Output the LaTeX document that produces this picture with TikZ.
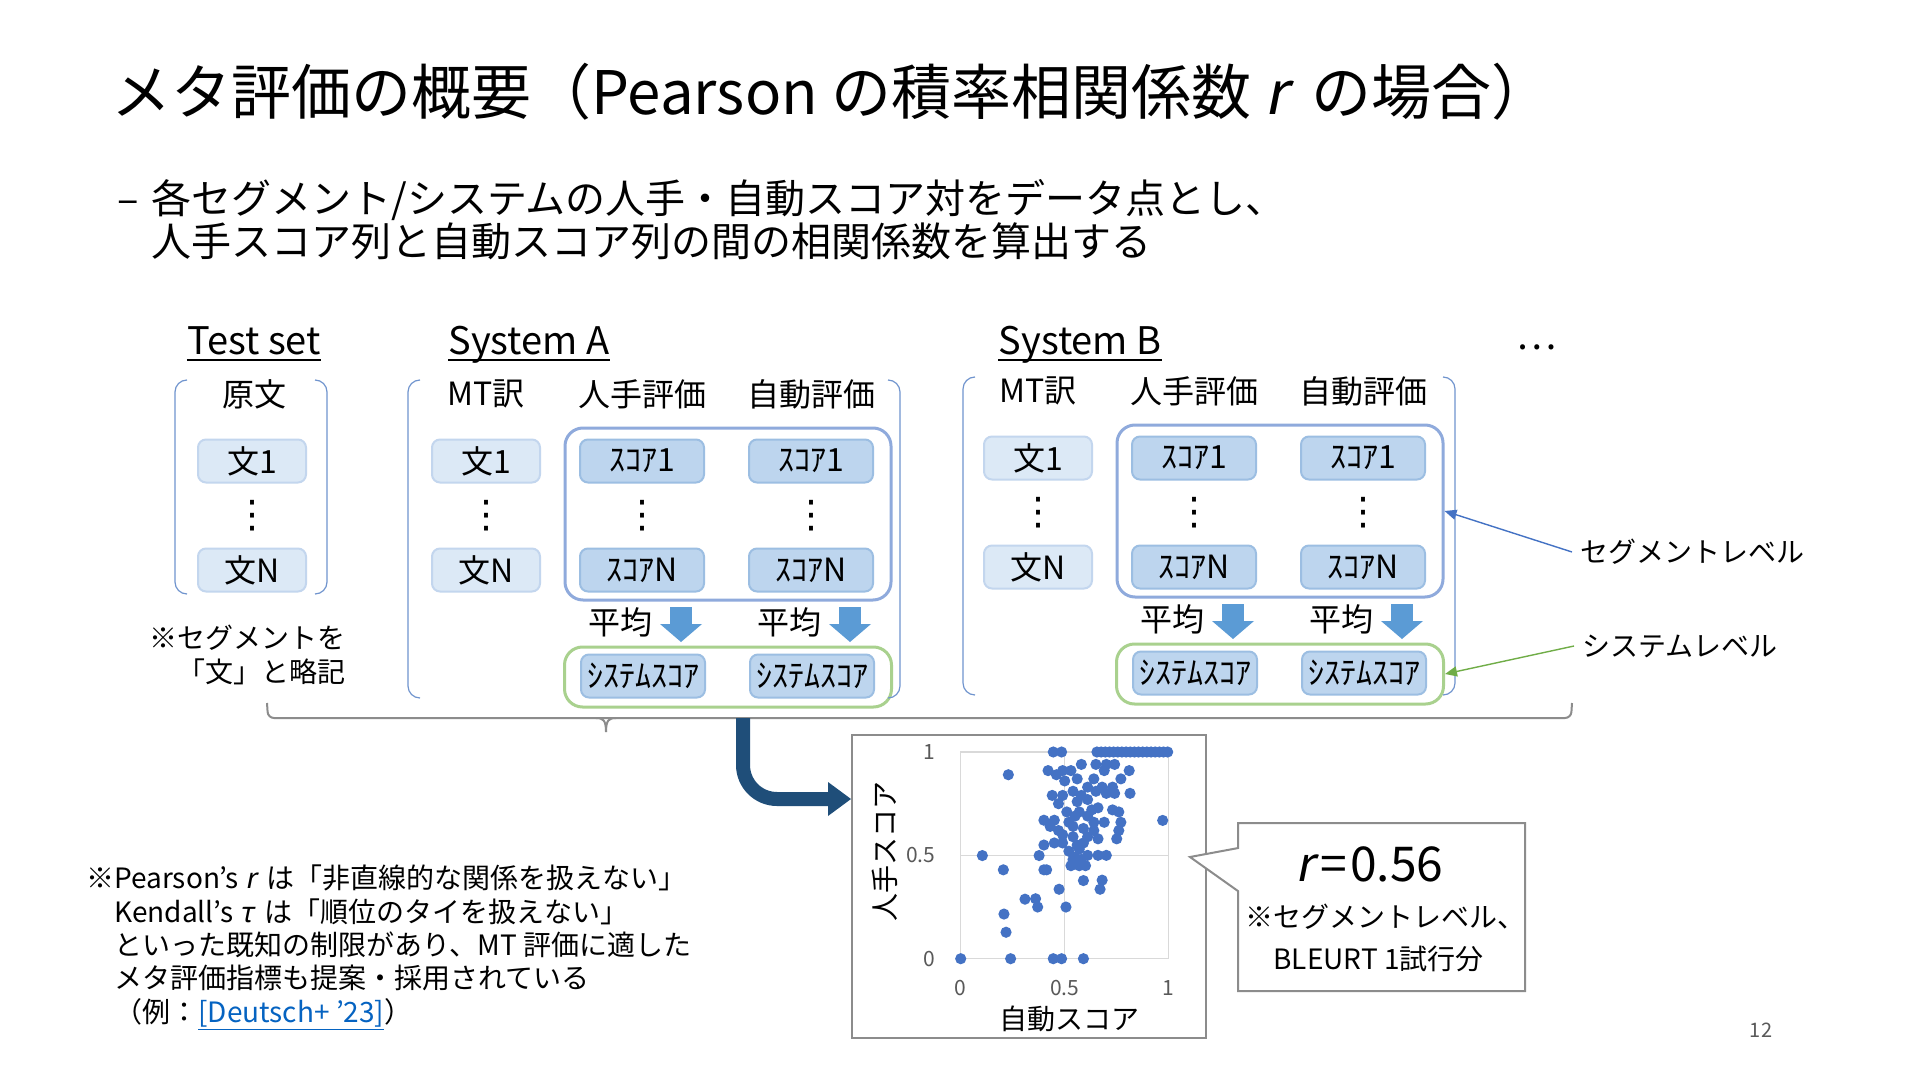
\documentclass[tikz,border=0pt]{standalone}
\usepackage{fontspec}
\setmainfont{Noto Sans CJK JP}[ItalicFont={Noto Sans CJK JP}, ItalicFeatures={FakeSlant=0.2}]
\newfontfamily\dotfont{DejaVu Sans}
\usepackage{xcolor}
\usepackage{tikz}
\usetikzlibrary{positioning,calc,arrows.meta,shapes.callouts}

\definecolor{sentfill}{HTML}{DCE9F6}
\definecolor{sentline}{HTML}{C3D6EE}
\definecolor{scorefill}{HTML}{BDD5EE}
\definecolor{scoreline}{HTML}{9CBEE2}
\definecolor{segline}{HTML}{8FAADC}
\definecolor{sysline}{HTML}{A9D18E}
\definecolor{brkline}{HTML}{7094CE}
\definecolor{avgblue}{HTML}{5B9BD5}
\definecolor{darkarr}{HTML}{1F4E79}
\definecolor{dotblue}{HTML}{4472C4}
\definecolor{linkblue}{HTML}{0563C1}
\definecolor{sysgreen}{HTML}{70AD47}
\definecolor{framegray}{HTML}{8C8C8C}
\definecolor{gridgray}{HTML}{D9D9D9}
\definecolor{tickgray}{HTML}{595959}

\begin{document}
\begin{tikzpicture}[x=0.5pt, y=-0.5pt,
  txt/.style={inner sep=0pt},
  head/.style={inner sep=0pt, font=\fontsize{19}{23}\selectfont},
  uline/.style={line width=1.2pt},
  lbl/.style={inner sep=0pt, font=\fontsize{16}{19}\selectfont},
  vd/.style={inner sep=0pt, font=\dotfont\fontsize{19}{22}\selectfont},
  sent/.style={draw=sentline, fill=sentfill, line width=1pt, rounded corners=4pt,
               minimum width=54pt, minimum height=21.5pt, inner sep=0pt,
               font=\fontsize{16}{19}\selectfont},
  score/.style={draw=scoreline, fill=scorefill, line width=1pt, rounded corners=4pt,
                minimum width=62pt, minimum height=21.5pt, inner sep=0pt,
                font=\fontsize{16}{19}\selectfont},
  segfr/.style={draw=segline, line width=1.5pt, rounded corners=9pt,
                minimum width=163pt, minimum height=86pt},
  sysfr/.style={draw=sysline, line width=1.5pt, rounded corners=9pt,
                minimum width=163.5pt, minimum height=30pt},
  brk/.style={draw=brkline, line width=0.6pt, rounded corners=6pt},
  avgarr/.style={avgblue, line width=11pt, -{Triangle[length=9pt, width=21pt, line width=0pt]}},
  bigarr/.style={darkarr, line width=7pt, rounded corners=17pt,
                 -{Triangle[length=11.5pt, width=17pt, line width=0pt]}},
  brc/.style={draw=framegray, line width=1pt},
  seglbl/.style={inner sep=4pt, font=\fontsize{14}{17}\selectfont},
  seglink/.style={dotblue, line width=0.7pt, -{Triangle[length=6pt, width=5pt]}},
  syslink/.style={sysgreen, line width=0.7pt, -{Triangle[length=6pt, width=5pt]}},
  plotfr/.style={draw=framegray, line width=1pt, minimum width=177pt,
                 minimum height=151.5pt, inner sep=0pt},
  gridl/.style={draw=gridgray, line width=0.6pt},
  ticklbl/.style={inner sep=0pt, text=tickgray, font=\fontsize{10.5}{12}\selectfont},
  axt/.style={inner sep=0pt, font=\fontsize{14}{17}\selectfont},
  rbubble/.style={rectangle callout, draw=framegray, fill=white, line width=1pt,
                  minimum width=143.5pt, minimum height=84pt, callout pointer width=21.5pt}
]
\useasboundingbox (0,0) rectangle (1920,1080);
\fill[white] (0,0) rectangle (1920,1080);

% title and lead text
\node[txt, anchor=west, font=\fontsize{30}{35}\selectfont] (title) at (111,92)
  {メタ評価の概要（Pearson の積率相関係数 \textit{r}\, の場合）};
\node[txt, anchor=west, align=left, font=\fontsize{20}{21.5}\selectfont] (lead) at (117,220)
  {\makebox[17pt][l]{–}各セグメント/システムの人手・自動スコア対をデータ点とし、\\
   \hspace*{17pt}人手スコア列と自動スコア列の間の相関係数を算出する};

% test set
\node[head, anchor=base] (tsh) at (254,355) {Test set};
\draw[uline] ($(tsh.base west)+(0,5)$) -- ($(tsh.base east)+(0,5)$);
\node[lbl] (srch) at (254,394) {原文};
\node[sent] (src1) at (252,461) {文1};
\node[sent, below=32pt of src1] (srcN) {文N};
\node[vd] (srcd) at ($(src1)!0.5!(srcN)$) {⋮};
\draw[brk] (187,380) -- (175,380) -- (175,594) -- (187,594);
\draw[brk] (315,380) -- (327,380) -- (327,594) -- (315,594);
\node[txt, align=right, anchor=east, font=\fontsize{14}{17}\selectfont] (abbr) at (346,655)
  {※セグメントを\\「文」と略記};

% system A
\node[head, anchor=base] (sAh) at (529,355) {System A};
\draw[uline] ($(sAh.base west)+(0,5)$) -- ($(sAh.base east)+(0,5)$);
\node[lbl] (mtA) at (486,394) {MT訳};
\node[lbl] (humA) at (642,394) {人手評価};
\node[lbl] (autA) at (811,394) {自動評価};
\node[sent] (mtA1) at (486,461) {文1};
\node[sent, below=32pt of mtA1] (mtAN) {文N};
\node[vd] (mtAd) at ($(mtA1)!0.5!(mtAN)$) {⋮};
\node[segfr] (segA) at (728,514) {};
\node[score] (hA1) at (642,461) {ｽｺｱ1};
\node[score, below=32pt of hA1] (hAN) {ｽｺｱN};
\node[vd] (hAd) at ($(hA1)!0.5!(hAN)$) {⋮};
\node[score] (aA1) at (811,461) {ｽｺｱ1};
\node[score, below=32pt of aA1] (aAN) {ｽｺｱN};
\node[vd] (aAd) at ($(aA1)!0.5!(aAN)$) {⋮};
\node[lbl] (avgAh) at (620,622) {平均};
\node[lbl] (avgAa) at (789,622) {平均};
\draw[avgarr] ($(avgAh)+(61,-15)$) -- ++(0,35);
\draw[avgarr] ($(avgAa)+(61,-15)$) -- ++(0,35);
\node[sysfr] (sysA) at (728,677) {};
\node[score] (shA) at (643,676) {ｼｽﾃﾑｽｺｱ};
\node[score] (saA) at (812,676) {ｼｽﾃﾑｽｺｱ};
\draw[brk] (420,380) -- (408,380) -- (408,698) -- (420,698);
\draw[brk] (888,380) -- (900,380) -- (900,698) -- (888,698);

% system B
\node[head, anchor=base] (sBh) at (1080,355) {System B};
\draw[uline] ($(sBh.base west)+(0,5)$) -- ($(sBh.base east)+(0,5)$);
\node[lbl] (mtB) at (1038,391) {MT訳};
\node[lbl] (humB) at (1194,391) {人手評価};
\node[lbl] (autB) at (1363,391) {自動評価};
\node[sent] (mtB1) at (1038,458) {文1};
\node[sent, below=32pt of mtB1] (mtBN) {文N};
\node[vd] (mtBd) at ($(mtB1)!0.5!(mtBN)$) {⋮};
\node[segfr] (segB) at (1280,511) {};
\node[score] (hB1) at (1194,458) {ｽｺｱ1};
\node[score, below=32pt of hB1] (hBN) {ｽｺｱN};
\node[vd] (hBd) at ($(hB1)!0.5!(hBN)$) {⋮};
\node[score] (aB1) at (1363,458) {ｽｺｱ1};
\node[score, below=32pt of aB1] (aBN) {ｽｺｱN};
\node[vd] (aBd) at ($(aB1)!0.5!(aBN)$) {⋮};
\node[lbl] (avgBh) at (1172,619) {平均};
\node[lbl] (avgBa) at (1341,619) {平均};
\draw[avgarr] ($(avgBh)+(61,-15)$) -- ++(0,35);
\draw[avgarr] ($(avgBa)+(61,-15)$) -- ++(0,35);
\node[sysfr] (sysB) at (1280,674) {};
\node[score] (shB) at (1195,673) {ｼｽﾃﾑｽｺｱ};
\node[score] (saB) at (1364,673) {ｼｽﾃﾑｽｺｱ};
\draw[brk] (975,377) -- (963,377) -- (963,695) -- (975,695);
\draw[brk] (1443,377) -- (1455,377) -- (1455,695) -- (1443,695);
\node[head] (more) at (1537,347) {\ldots};

% level labels
\node[seglbl, anchor=west] (seglv) at (1572,552) {セグメントレベル};
\node[seglbl, anchor=west] (syslv) at (1574,646) {システムレベル};
\draw[seglink] (seglv.west) -- (segB.east);
\draw[syslink] (syslv.west) -- (sysB.east);

% brace over all systems
\draw[brc, rounded corners=3pt] (267,703) -- (268,718) -- (1571,718) -- (1572,703);
\draw[brc] (596,718) .. controls (603,718) and (606,720) .. (606,732);
\draw[brc] (616,718) .. controls (609,718) and (606,720) .. (606,732);
\coordinate (fork) at (743,718);

% scatter plot
\node[plotfr] (plotbox) at (1029,886.5) {};
\begin{scope}[xshift=480.35pt, yshift=-479.35pt, x=104pt, y=103.35pt]
  \draw[gridl] (0,0) rectangle (1,1) (0.5,0) -- (0.5,1) (0,0.5) -- (1,0.5);
  \foreach \v [count=\i] in {0,0.5,1} {
    \node[ticklbl, anchor=east] (ytick\i) at (-0.12,\v) {\v};
    \node[ticklbl] (xtick\i) at (\v,-0.142) {\v};
  }
  \node[axt] (xtitle) at (0.525,-0.292) {自動スコア};
  \node[axt, rotate=90] (ytitle) at (-0.365,0.517) {人手スコア};
  \foreach \px/\py in {0/0, 0.24/0, 0.445/0, 0.485/0, 0.59/0,
    0.445/1, 0.485/1, 0.655/1, 0.675/1, 0.695/1, 0.715/1, 0.735/1, 0.755/1,
    0.775/1, 0.795/1, 0.815/1, 0.835/1, 0.855/1, 0.875/1, 0.895/1, 0.915/1,
    0.935/1, 0.955/1, 0.975/1, 0.995/1,
    0.229/0.89, 0.104/0.499, 0.205/0.43, 0.208/0.216, 0.218/0.128, 0.309/0.288,
    0.36/0.29, 0.37/0.25, 0.473/0.336, 0.506/0.25, 0.59/0.378, 0.68/0.38,
    0.67/0.336, 0.40/0.43, 0.413/0.43, 0.377/0.499, 0.971/0.669, 0.814/0.80,
    0.42/0.91, 0.46/0.89, 0.49/0.91, 0.53/0.91, 0.58/0.94, 0.65/0.94,
    0.70/0.94, 0.74/0.94, 0.81/0.91, 0.69/0.91, 0.77/0.87, 0.73/0.83,
    0.50/0.86, 0.56/0.87, 0.61/0.83, 0.64/0.87, 0.68/0.83, 0.54/0.81,
    0.65/0.81, 0.70/0.80, 0.74/0.80, 0.44/0.79, 0.49/0.79, 0.47/0.75,
    0.56/0.76, 0.61/0.77, 0.66/0.73, 0.51/0.71, 0.73/0.72, 0.76/0.71,
    0.40/0.67, 0.45/0.67, 0.43/0.64, 0.47/0.62, 0.55/0.69, 0.61/0.69,
    0.64/0.66, 0.69/0.66, 0.77/0.66, 0.54/0.64, 0.59/0.63, 0.64/0.62,
    0.76/0.62, 0.49/0.60, 0.54/0.59, 0.61/0.59, 0.66/0.58, 0.75/0.58,
    0.40/0.55, 0.45/0.56, 0.49/0.56, 0.56/0.55, 0.57/0.53, 0.55/0.49,
    0.61/0.50, 0.66/0.50, 0.70/0.50, 0.53/0.45, 0.57/0.45, 0.60/0.45,
    0.54/0.48, 0.58/0.48, 0.52/0.52, 0.59/0.56, 0.63/0.72, 0.58/0.79,
    0.52/0.66, 0.57/0.71}
    \fill[dotblue] (\px,\py) circle[radius=2.8pt];
\end{scope}
\draw[bigarr] (fork) |- ($(plotbox.north west)+(0,65)$);

% callout with the result
\node[rbubble, callout absolute pointer={(1190,857)}] (rbox) at (1381.5,907) {};
\node[txt, font=\fontsize{24}{28}\selectfont] (rval) at (1369.5,864)
  {\textit{r}\hspace{3pt}=\hspace{1.5pt}0.56};
\node[txt, align=left, anchor=west, font=\fontsize{14}{21}\selectfont] (rnote) at (1245,938)
  {※セグメントレベル、\\\hphantom{※}BLEURT 1試行分};

% footnote
\node[txt, align=left, anchor=west, font=\fontsize{14}{16.7}\selectfont] (caveat) at (86,948)
  {※Pearson’s \textit{r}\, は「非直線的な関係を扱えない」\\
   \hphantom{※}Kendall’s \textit{τ}\, は「順位のタイを扱えない」\\
   \hphantom{※}といった既知の制限があり、MT 評価に適した\\
   \hphantom{※}メタ評価指標も提案・採用されている\\
   \hphantom{※}（例：\textcolor{linkblue}{\underline{[Deutsch+ ’23]}}）};
\node[txt, text=tickgray, font=\fontsize{10}{12}\selectfont] (pgno) at (1761,1030) {12};
\end{tikzpicture}
\end{document}
